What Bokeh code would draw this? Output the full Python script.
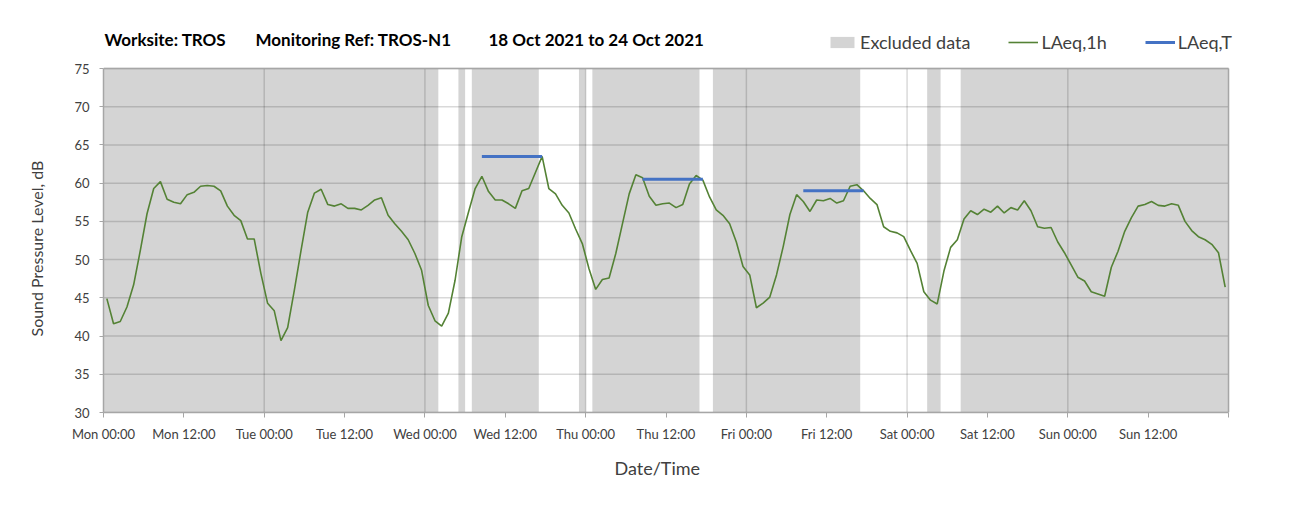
from bokeh.plotting import figure
from bokeh.models import Range1d, FixedTicker, Label, Legend, LegendItem, ColumnDataSource, Title
from bokeh.embed import file_html
from bokeh.resources import INLINE

# ---------------- data ----------------
title_parts = ["Worksite: TROS", "Monitoring Ref: TROS-N1", "18 Oct 2021 to 24 Oct 2021"]
x_label = "Date/Time"
y_label = "Sound Pressure Level, dB"
tick_hours = [0, 12, 24, 36, 48, 60, 72, 84, 96, 108, 120, 132, 144, 156, 168]
tick_labels = ["Mon 00:00", "Mon 12:00", "Tue 00:00", "Tue 12:00", "Wed 00:00", "Wed 12:00",
               "Thu 00:00", "Thu 12:00", "Fri 00:00", "Fri 12:00", "Sat 00:00", "Sat 12:00",
               "Sun 00:00", "Sun 12:00", ""]
day_hours = [24, 48, 72, 96, 120, 144]
y_ticks = [30, 35, 40, 45, 50, 55, 60, 65, 70, 75]
y_min, y_max = 30, 75
x_min, x_max = 0, 168

# excluded data periods (hours from Mon 00:00)
excl_start = [0, 53, 55, 71, 73, 91, 123, 128]
excl_end = [50, 54, 65, 72, 89, 113, 125, 168]

# hourly LAeq,1h values (dB), one per hour
laeq_1h = [
    44.9, 41.6, 41.9, 43.8, 46.7, 51.2, 56.0, 59.3, 60.2, 57.9, 57.5, 57.3, 58.5, 58.8,
    59.6, 59.7, 59.6, 59.0, 57.0, 55.8, 55.1, 52.7, 52.7, 48.2, 44.3, 43.3, 39.4, 41.1,
    46.0, 51.2, 56.2, 58.7, 59.2, 57.2, 57.0, 57.3, 56.7, 56.7, 56.5, 57.1, 57.8, 58.1,
    55.8, 54.7, 53.7, 52.6, 50.8, 48.6, 44.0, 42.0, 41.3, 43.0, 47.3, 53.0, 56.2, 59.3,
    60.9, 58.9, 57.8, 57.8, 57.3, 56.7, 59.0, 59.3, 61.4, 63.5, 59.3, 58.6, 57.1, 56.1,
    54.0, 52.1, 48.8, 46.1, 47.4, 47.6, 50.8, 54.7, 58.6, 61.1, 60.7, 58.3, 57.1, 57.3,
    57.4, 56.8, 57.2, 59.9, 61.0, 60.4, 58.2, 56.5, 55.8, 54.7, 52.3, 49.1, 48.0, 43.7,
    44.3, 45.1, 48.0, 51.7, 55.9, 58.5, 57.6, 56.3, 57.8, 57.7, 58.0, 57.4, 57.7, 59.6,
    59.8, 59.0, 58.0, 57.2, 54.3, 53.7, 53.5, 53.0, 51.2, 49.5, 45.8, 44.7, 44.2, 48.5,
    51.6, 52.6, 55.3, 56.4, 55.9, 56.6, 56.2, 57.0, 56.1, 56.8, 56.5, 57.7, 56.4, 54.3,
    54.1, 54.2, 52.3, 50.9, 49.3, 47.7, 47.2, 45.8, 45.5, 45.2, 49.0, 51.1, 53.7, 55.5,
    57.0, 57.2, 57.6, 57.1, 57.0, 57.3, 57.1, 55.0, 53.8, 53.0, 52.6, 52.0, 50.9, 46.4,
]

# LAeq,T periods (first and last hour index) and values
laeqT_start = [56, 80, 104]
laeqT_end = [65, 89, 113]
laeqT_val = [63.5, 60.5, 59.0]

# ---------------- styling ----------------
FONT = "Lato"
TXT = "#404040"
GREY = "#d4d4d4"
GREEN = "#548235"
BLUE = "#4472C4"
FRAME = "#a6a6a6"

W, H = 1279, 492
PLOT_LEFT, PLOT_RIGHT = 102, 1228      # pixel columns of the plot area
PLOT_TOP, PLOT_BOTTOM = 68, 412        # pixel rows of the plot area
FRAME_TOP, FRAME_RIGHT = 20, 1262      # frame extended so title/legend fit inside it
px_per_h = (PLOT_RIGHT - PLOT_LEFT) / (x_max - x_min)
px_per_db = (PLOT_BOTTOM - PLOT_TOP) / (y_max - y_min)
x_end = x_max + (FRAME_RIGHT - PLOT_RIGHT) / px_per_h
y_end = y_max + (PLOT_TOP - FRAME_TOP) / px_per_db
frame_h = PLOT_BOTTOM - FRAME_TOP

p = figure(width=W, height=H, output_backend="svg", toolbar_location=None,
           x_range=Range1d(x_min, x_end), y_range=Range1d(y_min, y_end),
           min_border_left=PLOT_LEFT, min_border_right=W - FRAME_RIGHT,
           min_border_top=FRAME_TOP, min_border_bottom=H - PLOT_BOTTOM,
           background_fill_color="white", border_fill_color="white")
p.outline_line_color = None
p.xgrid.grid_line_color = None
p.ygrid.grid_line_color = None

# excluded data shading
ex_src = ColumnDataSource(dict(left=excl_start, right=excl_end,
                               bottom=[y_min] * len(excl_start), top=[y_max] * len(excl_start)))
r_ex = p.quad(left="left", right="right", bottom="bottom", top="top", source=ex_src,
              fill_color=GREY, line_color=None, level="image")

# gridlines (limited to the plot area)
p.segment(x0=day_hours, x1=day_hours, y0=[y_min] * len(day_hours), y1=[y_max] * len(day_hours),
          line_color="black", line_alpha=0.15, line_width=1.5, level="underlay")
p.segment(x0=[x_min] * len(y_ticks), x1=[x_max] * len(y_ticks), y0=y_ticks, y1=y_ticks,
          line_color="black", line_alpha=0.15, line_width=1.5, level="underlay")
# plot-area border (top and right)
p.segment(x0=[x_min, x_max], x1=[x_max, x_max], y0=[y_max, y_min], y1=[y_max, y_max],
          line_color=FRAME, line_width=1.5)

# LAeq,1h line
hours = [i + 0.5 for i in range(len(laeq_1h))]
r_1h = p.line(hours, laeq_1h, line_color=GREEN, line_width=1.6)

# LAeq,T segments
t_src = ColumnDataSource(dict(x0=[s + 0.5 for s in laeqT_start], x1=[e + 0.5 for e in laeqT_end],
                              y=laeqT_val))
r_T = p.segment(x0="x0", y0="y", x1="x1", y1="y", source=t_src, line_color=BLUE, line_width=3)

# axes
p.xaxis.ticker = FixedTicker(ticks=tick_hours)
p.xaxis.major_label_overrides = {h: l for h, l in zip(tick_hours, tick_labels)}
p.xaxis.bounds = (x_min, x_max)
p.yaxis.ticker = FixedTicker(ticks=y_ticks)
p.yaxis.bounds = (y_min, y_max)
for ax in (p.xaxis[0], p.yaxis[0]):
    ax.axis_line_color = FRAME
    ax.axis_line_width = 1.5
    ax.major_tick_line_color = FRAME
    ax.major_tick_in = 0
    ax.minor_tick_line_color = None
    ax.major_label_text_font = FONT
    ax.major_label_text_color = TXT
    ax.major_label_text_font_size = "13px"
p.xaxis.major_tick_out = 5
p.yaxis.major_tick_out = 4
p.xaxis.major_label_standoff = 8
p.yaxis.major_label_standoff = 10

# axis titles placed as side titles so they sit where the reference has them
p.add_layout(Title(text=y_label, align="left", offset=76, vertical_align="middle",
                   standoff=50, text_font=FONT, text_font_size="16px",
                   text_font_style="normal", text_color=TXT), "left")
p.add_layout(Title(text=x_label, align="left", offset=511, vertical_align="top",
                   standoff=24, text_font=FONT, text_font_size="18px",
                   text_font_style="normal", text_color=TXT), "below")

# title as three labels above the plot area (inside the extended frame)
title_y = frame_h - 19
for xoff, txt in zip([1, 152, 385], title_parts):
    p.add_layout(Label(x=xoff, y=title_y, x_units="screen", y_units="screen", text=txt,
                       text_font=FONT, text_font_style="bold", text_font_size="17px",
                       text_color="black", text_baseline="middle"))

legend = Legend(items=[LegendItem(label="Excluded data", renderers=[r_ex]),
                       LegendItem(label="LAeq,1h", renderers=[r_1h]),
                       LegendItem(label="LAeq,T", renderers=[r_T])],
                orientation="horizontal", location=(724, frame_h - 33),
                label_text_font=FONT, label_text_font_size="18px", label_text_color=TXT,
                glyph_width=30, glyph_height=14, label_standoff=3, spacing=38,
                padding=0, margin=0, background_fill_alpha=0, border_line_color=None)
p.add_layout(legend, "center")

open("out.html", "w").write(file_html(p, INLINE))
